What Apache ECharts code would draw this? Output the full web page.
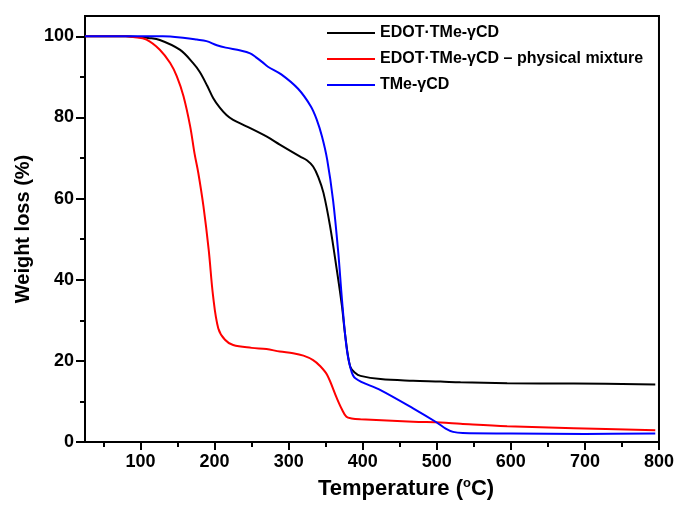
<!DOCTYPE html>
<html>
<head>
<meta charset="utf-8">
<script src="https://cdn.jsdelivr.net/npm/echarts@6/dist/echarts.min.js"></script>
<style>
  html, body { margin: 0; padding: 0; background: #fff; }
  #chart { width: 677px; height: 505px; }
</style>
</head>
<body>
<div id="chart"></div>
<script>
// series names
const names = ['EDOT\u00b7TMe-\u03b3CD', 'EDOT\u00b7TMe-\u03b3CD \u2013 physical mixture', 'TMe-\u03b3CD'];

// EDOT·TMe-γCD (black)
const blackT = [25, 80, 100, 110, 126, 153, 171, 180, 190, 198, 207, 216, 225, 243, 270, 288, 315, 325, 333, 340, 347, 356, 365, 372, 376, 383, 390, 397, 424, 468, 505, 532, 595, 685, 795];
const blackW = [100, 100, 99.8, 99.6, 99.1, 96.7, 93.4, 91.2, 87.8, 84.8, 82.4, 80.6, 79.4, 77.8, 75.3, 73.3, 70.4, 69.4, 67.9, 65.3, 61.4, 53.1, 42.4, 33.4, 26.8, 18.6, 17.0, 16.3, 15.5, 15.1, 14.9, 14.7, 14.5, 14.4, 14.2];

// physical mixture (red)
const redT = [25, 80, 90, 108, 126, 140, 149, 158, 167, 173, 178, 185, 192, 198, 205, 214, 225, 250, 270, 288, 306, 320, 333, 342, 352, 365, 372, 378, 385, 397, 468, 505, 532, 595, 685, 795];
const redW = [100, 100, 99.8, 99.2, 96.7, 93.4, 90.1, 85.2, 77.8, 71, 66.3, 58, 47.4, 35.9, 28, 25.2, 23.9, 23.2, 22.9, 22.3, 21.9, 21.3, 20.2, 18.8, 16.5, 10.8, 8, 6.2, 5.8, 5.6, 5.0, 4.8, 4.5, 3.9, 3.4, 2.9];

// TMe-γCD (blue)
const blueT = [25, 130, 160, 176, 189, 203, 215, 235, 248, 256, 264, 272, 290, 313, 330, 338, 345, 352, 360, 367, 372, 378, 383, 390, 424, 468, 500, 512, 522, 535, 600, 700, 795];
const blueW = [100, 100, 99.6, 99.2, 98.8, 97.8, 97.2, 96.5, 95.8, 94.8, 93.7, 92.5, 90.6, 87, 82.7, 79.4, 75.3, 69.6, 59.5, 46.6, 35, 23.5, 18.6, 15.7, 12.8, 8.3, 4.8, 3.3, 2.5, 2.2, 2.1, 2.0, 2.1];

// ticks
const xMajor = [100, 200, 300, 400, 500, 600, 700, 800];
const xMinor = [50, 150, 250, 350, 450, 550, 650, 750];
const yMajor = [0, 20, 40, 60, 80, 100];
const yMinor = [10, 30, 50, 70, 90];

const colors = ['#000000', '#ff0000', '#0000ff'];
const FONT = 'Arial, "Liberation Sans", sans-serif';

function zip(xs, ys) {
  return xs.map(function (x, i) { return [x, ys[i]]; });
}

const chart = echarts.init(document.getElementById('chart'));

const tickLine = { color: '#000', width: 2 };

chart.setOption({
  animation: false,
  backgroundColor: '#fff',
  grid: {
    left: 85, top: 16, right: 16, bottom: 63,
    show: true, borderColor: '#000', borderWidth: 2
  },
  legend: {
    orient: 'vertical',
    left: 322, top: 20,
    icon: 'rect',
    itemWidth: 48, itemHeight: 2,
    itemGap: 10,
    textStyle: { fontFamily: FONT, fontSize: 16, fontWeight: 'bold', color: '#000', lineHeight: 16 },
    data: names
  },
  xAxis: [{
    type: 'value', min: 25, max: 800,
    name: 'Temperature ({sup|o}C)',
    nameLocation: 'middle', nameGap: 35,
    nameTextStyle: {
      fontFamily: FONT, fontSize: 22, fontWeight: 'bold', color: '#000',
      padding: [0, 0, 0, 68],
      rich: { sup: { fontFamily: FONT, fontSize: 13, fontWeight: 'bold', color: '#000', padding: [0, 0, 10, 0] } }
    },
    axisLine: { show: true, onZero: false, lineStyle: tickLine },
    axisTick: { show: true, length: 8, customValues: xMajor, lineStyle: tickLine },
    axisLabel: { customValues: xMajor, margin: 11, fontFamily: FONT, fontSize: 18, fontWeight: 'bold', color: '#000' },
    splitLine: { show: false }
  }, {
    type: 'value', min: 25, max: 800, position: 'bottom',
    axisLine: { show: false },
    axisTick: { show: true, length: 5, customValues: xMinor, lineStyle: tickLine },
    axisLabel: { show: false },
    splitLine: { show: false }
  }],
  yAxis: [{
    type: 'value', min: 0, max: 105,
    name: 'Weight loss (%)',
    nameLocation: 'middle', nameGap: 50, nameRotate: 90,
    nameTextStyle: { fontFamily: FONT, fontSize: 20, fontWeight: 'bold', color: '#000' },
    axisLine: { show: true, onZero: false, lineStyle: tickLine },
    axisTick: { show: true, length: 9, customValues: yMajor, lineStyle: tickLine },
    axisLabel: { customValues: yMajor, margin: 11, fontFamily: FONT, fontSize: 18, fontWeight: 'bold', color: '#000' },
    splitLine: { show: false }
  }, {
    type: 'value', min: 0, max: 105, position: 'left',
    axisLine: { show: false },
    axisTick: { show: true, length: 5, customValues: yMinor, lineStyle: tickLine },
    axisLabel: { show: false },
    splitLine: { show: false }
  }],
  series: [
    { name: names[0], type: 'line', data: zip(blackT, blackW), color: colors[0] },
    { name: names[1], type: 'line', data: zip(redT, redW), color: colors[1] },
    { name: names[2], type: 'line', data: zip(blueT, blueW), color: colors[2] }
  ].map(function (s) {
    return Object.assign(s, {
      showSymbol: false, symbol: 'none',
      smooth: 0.35,
      lineStyle: { width: 2, color: s.color },
      itemStyle: { color: s.color }
    });
  })
});
</script>
</body>
</html>
